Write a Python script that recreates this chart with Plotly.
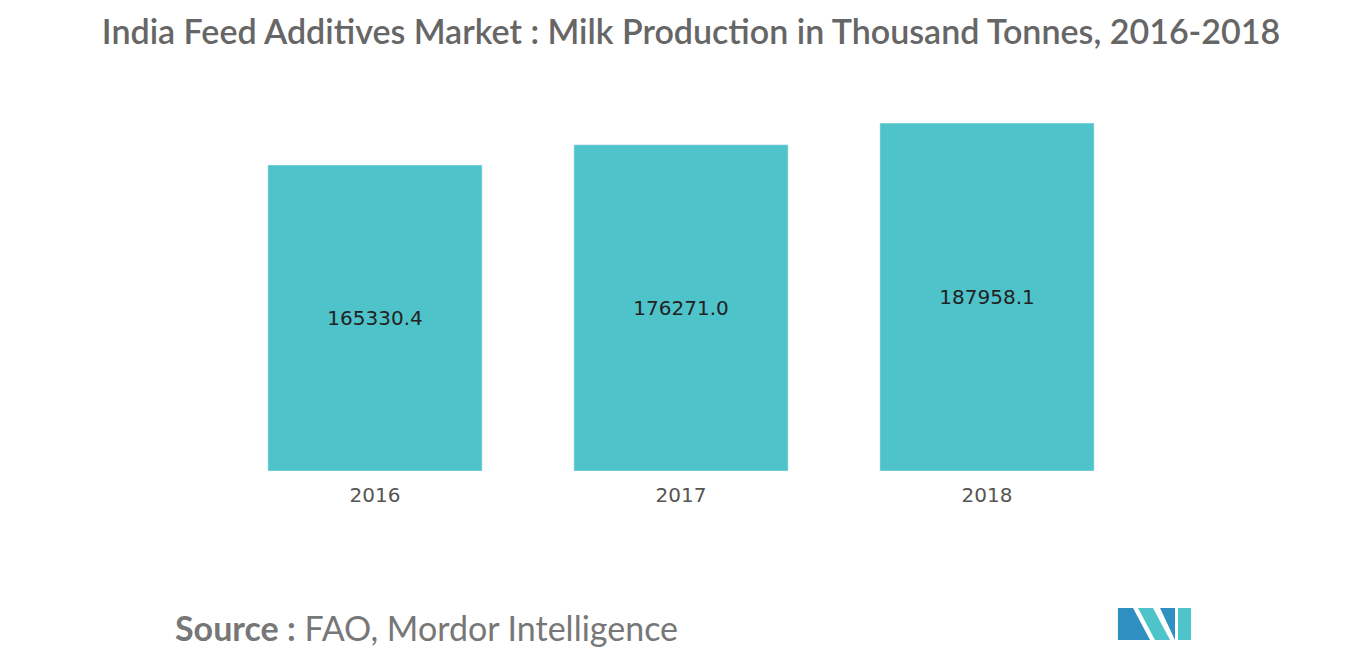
import plotly.graph_objects as go

years = ["2016", "2017", "2018"]
milk_production = [165330.4, 176271.0, 187958.1]
bar_labels = ["165330.4", "176271.0", "187958.1"]

W, H = 1366, 655
ML, MR, MT, MB = 214, 234, 92, 192
OFF = 8  # page body margin


def px_to_paper(x, y):
    pw = W - ML - MR
    ph = H - MT - MB
    return (x - OFF - ML) / pw, 1 - (y - OFF - MT) / ph


fig = go.Figure()
fig.add_trace(go.Bar(
    x=years,
    y=milk_production,
    text=bar_labels,
    textposition="inside",
    insidetextanchor="middle",
    textfont=dict(family="DejaVu Sans", size=20, color="#222222"),
    marker=dict(color="#4FC3CA"),
    hoverinfo="skip",
))

fig.update_layout(
    width=W, height=H,
    margin=dict(l=ML, r=MR, t=MT, b=MB),
    plot_bgcolor="white", paper_bgcolor="white",
    bargap=0.3,
    showlegend=False,
    title=dict(
        text="India Feed Additives Market : Milk Production in Thousand Tonnes, 2016-2018",
        x=0.5, xanchor="center", y=1 - 24 / H, yanchor="middle",
        font=dict(family="Lato", size=34, color="#666666", weight=600),
    ),
    xaxis=dict(showline=False, ticks="", ticklabelstandoff=10,
               tickfont=dict(family="DejaVu Sans", size=20, color="#555555")),
    yaxis=dict(visible=False, range=[0, 200450]),
)

sx, sy = px_to_paper(173, 627)
fig.add_annotation(
    xref="paper", yref="paper", x=sx, y=sy, xanchor="left", yanchor="middle",
    text="<b>Source :</b> FAO, Mordor Intelligence", showarrow=False,
    font=dict(family="Lato", size=34, color="#777777"),
)

# logo
logo = [
    ([(1118, 640), (1118, 608), (1133, 608), (1150, 640)], "#2E8FC0"),
    ([(1138, 608), (1153, 608), (1170, 640), (1155, 640)], "#4FC3CA"),
    ([(1160, 608), (1175, 608), (1175, 640)], "#2E8FC0"),
    ([(1178, 608), (1191, 608), (1191, 640), (1178, 640)], "#4FC3CA"),
]
for pts, col in logo:
    conv = [px_to_paper(x, y) for x, y in pts]
    path = "M " + " L ".join(f"{a:.4f} {b:.4f}" for a, b in conv) + " Z"
    fig.add_shape(type="path", path=path, xref="paper", yref="paper",
                  fillcolor=col, line=dict(width=0), layer="above")

fig.write_html("out.html")
